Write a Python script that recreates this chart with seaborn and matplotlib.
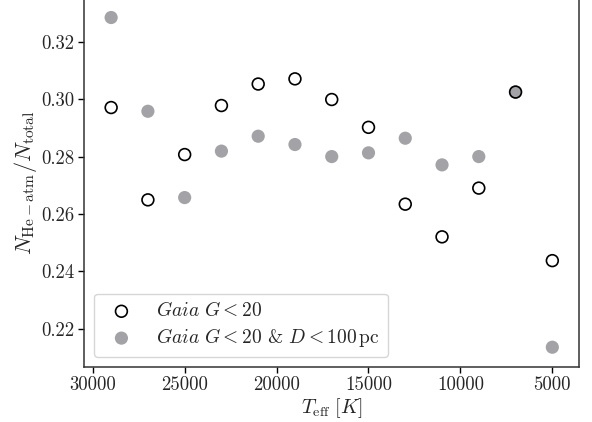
import numpy as np
import pandas as pd
import matplotlib
matplotlib.use("Agg")
import matplotlib.pyplot as plt
import seaborn as sns

# Effective temperature bins and helium-atmosphere fractions
teff = [29000, 27000, 25000, 23000, 21000, 19000, 17000, 15000, 13000, 11000, 9000, 7000, 5000]
frac_all = [0.2971, 0.2649, 0.2807, 0.2978, 0.3053, 0.3071, 0.2999, 0.2902, 0.2634, 0.2520, 0.2690, 0.3025, 0.2437]
frac_100pc = [0.3285, 0.2958, 0.2657, 0.2819, 0.2871, 0.2842, 0.2800, 0.2813, 0.2864, 0.2771, 0.2800, 0.3025, 0.2135]

label_all = r"$\mathit{Gaia}\ G < 20$"
label_100pc = r"$\mathit{Gaia}\ G < 20$ & $D < 100\,\mathrm{pc}$"

df_all = pd.DataFrame({"teff": teff, "frac": frac_all})
df_100 = pd.DataFrame({"teff": teff, "frac": frac_100pc})

sns.set_style("ticks")
plt.rcParams["font.family"] = "cmr10"
plt.rcParams["mathtext.fontset"] = "cm"
plt.rcParams["axes.unicode_minus"] = False
plt.rcParams["axes.formatter.use_mathtext"] = True

fig = plt.figure(figsize=(5.92, 4.22), dpi=100)
ax = fig.add_axes([0.1427, 0.131, 0.835, 0.873])

sns.scatterplot(data=df_all, x="teff", y="frac", ax=ax, marker="o", s=72,
                facecolor="none", edgecolor="black", linewidth=1.2,
                label=label_all, zorder=3)
sns.scatterplot(data=df_100, x="teff", y="frac", ax=ax, marker="o", s=90,
                color="#a3a3a7", edgecolor="none", linewidth=0,
                label=label_100pc, zorder=2)

ax.set_xlim(30450, 3560)
ax.set_ylim(0.2067, 0.3352)
ax.set_yticks([0.22, 0.24, 0.26, 0.28, 0.30, 0.32])
ax.set_yticklabels(["0.22", "0.24", "0.26", "0.28", "0.30", "0.32"])
ax.set_xticks([30000, 25000, 20000, 15000, 10000, 5000])
ax.set_xticklabels(["30000", "25000", "20000", "15000", "10000", "5000"])

ax.set_xlabel(r"$T_{\rm eff}\ [K]$", fontsize=14.5, labelpad=1)
ax.set_ylabel(r"$N_{\rm He-atm}/N_{\rm total}$", fontsize=16, labelpad=2)
ax.tick_params(labelsize=13.5, length=4, width=1.0, color="black", pad=3)
for sp in ax.spines.values():
    sp.set_linewidth(1.1)
    sp.set_color("#333333")

leg = ax.legend(loc="lower left", fontsize=14, frameon=True, fancybox=True,
                borderpad=0.4, handletextpad=0.8, labelspacing=0.3,
                borderaxespad=0.5)
leg.get_frame().set_edgecolor("#cccccc")

fig.savefig("out.png", dpi=100)
